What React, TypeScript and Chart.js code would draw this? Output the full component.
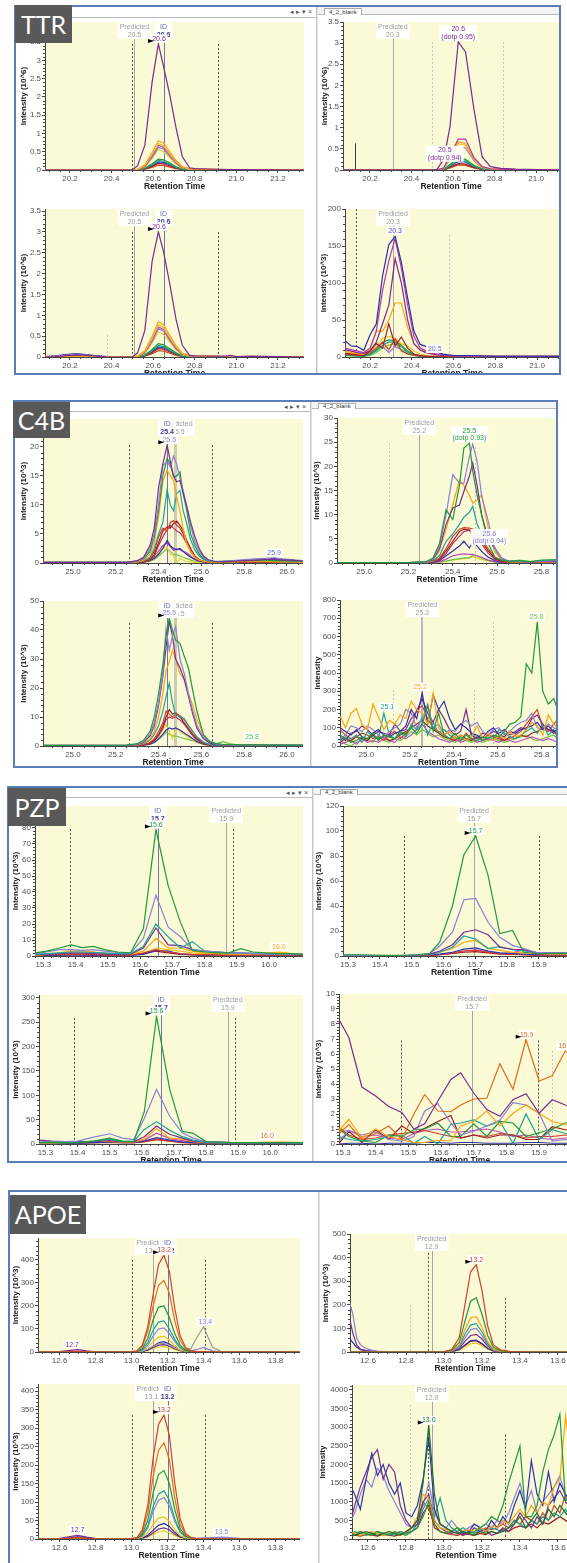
import React, { useEffect, useRef } from "react";
import { Chart, registerables } from "chart.js";

Chart.register(...registerables);

// ---------------- palette ----------------
const PURPLE = "#7a2b8f";
const ORANGE = "#ffa20f";
const GOLD = "#e8c21c";
const PINK = "#c04cbc";
const LAV = "#8a80d4";
const YELLOW = "#e2d52e";
const GREEN = "#1e9a3b";
const TEAL = "#1aa59a";
const BLUE = "#2f30ad";
const DRED = "#9b1d24";
const RED = "#d3402a";
const LGREEN = "#71c148";
const DORANGE = "#e26b1c";
const CRIMSON = "#b8336b";
const GRAY = "#9a9a9a";
const DGREEN = "#1d6e2c";
const MAG = "#b23aa6";
const PRED_TXT = "#9c9c9c";
const ID_TXT = "#6a6ab4";
const ID_VAL = "#3e3a8c";
const BG = "#fafad6";
const LF = "'Liberation Sans', Arial, sans-serif";

// ---------------- TTR ----------------
const ttrTL_x = [20.08, 20.47, 20.5, 20.525, 20.56, 20.595, 20.625, 20.65, 20.68, 20.71, 20.74, 20.775, 20.8, 20.9, 21.0, 21.33];
const ttrTL_purple = [0, 0, 0, 0.12, 0.68, 2.41, 3.45, 2.83, 2.05, 1.15, 0.37, 0.06, 0.04, 0.02, 0.01, 0];
const ttrTL_orange = [0, 0, 0, 0.02, 0.14, 0.48, 0.8, 0.74, 0.5, 0.26, 0.09, 0.04, 0.03, 0.02, 0, 0];
const ttrTL_gold = [0, 0, 0, 0.02, 0.12, 0.43, 0.72, 0.67, 0.45, 0.23, 0.08, 0.03, 0.03, 0.02, 0, 0];
const ttrTL_pink = [0, 0, 0, 0.01, 0.1, 0.38, 0.68, 0.62, 0.41, 0.2, 0.07, 0.03, 0.02, 0.01, 0, 0];
const ttrTL_lav = [0, 0, 0, 0.01, 0.09, 0.35, 0.62, 0.57, 0.37, 0.18, 0.06, 0.03, 0.02, 0.01, 0, 0];
const ttrTL_yellow = [0, 0, 0, 0.01, 0.08, 0.31, 0.56, 0.5, 0.33, 0.16, 0.05, 0.02, 0.02, 0.01, 0, 0];
const ttrTL_green = [0, 0, 0, 0.01, 0.05, 0.17, 0.3, 0.28, 0.19, 0.09, 0.03, 0.01, 0.01, 0, 0, 0];
const ttrTL_teal = [0, 0, 0, 0, 0.04, 0.14, 0.26, 0.24, 0.16, 0.07, 0.02, 0.01, 0.01, 0, 0, 0];
const ttrTL_blue = [0, 0, 0, 0, 0.03, 0.12, 0.22, 0.21, 0.14, 0.06, 0.02, 0.01, 0, 0, 0, 0];
const ttrTL_dred = [0, 0, 0, 0, 0.03, 0.1, 0.18, 0.17, 0.11, 0.05, 0.02, 0.01, 0, 0, 0, 0];
const ttrTL_red = [0, 0, 0, 0, 0.02, 0.07, 0.13, 0.12, 0.08, 0.04, 0.01, 0, 0, 0, 0, 0];

const ttrTR_x = [20.07, 20.5, 20.52, 20.555, 20.585, 20.625, 20.66, 20.7, 20.74, 20.78, 20.83, 20.9, 21.11];
const ttrTR_purple = [0, 0, 0, 0.25, 1.02, 3.03, 2.79, 1.45, 0.31, 0.08, 0.04, 0.02, 0];
const ttrTR_mag = [0, 0, 0, 0.05, 0.35, 0.73, 0.73, 0.3, 0.08, 0.03, 0.02, 0.01, 0];
const ttrTR_orange = [0, 0, 0, 0.04, 0.3, 0.67, 0.62, 0.27, 0.07, 0.03, 0.02, 0.01, 0];
const ttrTR_gold = [0, 0, 0, 0.04, 0.28, 0.62, 0.58, 0.25, 0.06, 0.03, 0.02, 0.01, 0];
const ttrTR_lav = [0, 0, 0, 0.03, 0.25, 0.55, 0.52, 0.22, 0.05, 0.02, 0.01, 0, 0];
const ttrTR_green = [0, 0, 0, 0.02, 0.13, 0.28, 0.25, 0.11, 0.03, 0.01, 0, 0, 0];
const ttrTR_teal = [0, 0, 0, 0.01, 0.1, 0.23, 0.21, 0.09, 0.02, 0.01, 0, 0, 0];
const ttrTR_blue = [0, 0, 0, 0.01, 0.09, 0.2, 0.19, 0.08, 0.02, 0, 0, 0, 0];
const ttrTR_dred = [0, 0, 0, 0.01, 0.07, 0.15, 0.14, 0.06, 0.02, 0, 0, 0, 0];
const ttrTR_red = [0, 0, 0, 0, 0.05, 0.12, 0.11, 0.05, 0.01, 0, 0, 0, 0];

const ttrBL_x = [20.08, 20.13, 20.18, 20.23, 20.28, 20.33, 20.38, 20.47, 20.5, 20.525, 20.56, 20.595, 20.625, 20.65, 20.68, 20.71, 20.74, 20.775, 20.8, 20.9, 20.95, 20.97, 21.0, 21.07, 21.33];
const ttrBL_purple = [0, 0.01, 0.03, 0.05, 0.04, 0.02, 0, 0, 0, 0.1, 0.64, 2.3, 3.0, 2.52, 1.75, 0.9, 0.28, 0.04, 0.03, 0.02, 0.02, 0.04, 0.01, 0.02, 0];
const ttrBL_orange = [0, 0, 0.01, 0.02, 0.02, 0.01, 0, 0, 0, 0.02, 0.15, 0.5, 0.85, 0.77, 0.52, 0.27, 0.09, 0.04, 0.03, 0.02, 0, 0, 0, 0, 0];
const ttrBL_gold = [0, 0, 0, 0.01, 0.01, 0, 0, 0, 0, 0.02, 0.13, 0.45, 0.78, 0.7, 0.47, 0.24, 0.08, 0.03, 0.03, 0.02, 0, 0, 0, 0, 0];
const ttrBL_pink = [0, 0.01, 0.02, 0.03, 0.02, 0.01, 0, 0, 0, 0.01, 0.11, 0.4, 0.72, 0.66, 0.43, 0.21, 0.07, 0.03, 0.02, 0.01, 0, 0, 0, 0, 0];
const ttrBL_lav = [0, 0.02, 0.04, 0.07, 0.05, 0.02, 0, 0, 0, 0.01, 0.1, 0.37, 0.68, 0.62, 0.4, 0.19, 0.06, 0.03, 0.02, 0.01, 0, 0, 0, 0, 0];
const ttrBL_yellow = [0, 0, 0, 0, 0, 0, 0, 0, 0, 0.01, 0.09, 0.33, 0.6, 0.54, 0.35, 0.17, 0.05, 0.02, 0.02, 0.01, 0, 0, 0, 0, 0];
const ttrBL_green = [0, 0, 0.01, 0.02, 0.01, 0, 0, 0, 0, 0.01, 0.05, 0.18, 0.32, 0.29, 0.2, 0.1, 0.03, 0.01, 0.01, 0, 0, 0, 0, 0, 0];
const ttrBL_teal = [0, 0, 0, 0.01, 0.01, 0, 0, 0, 0, 0, 0.04, 0.15, 0.28, 0.25, 0.17, 0.08, 0.02, 0.01, 0.01, 0, 0, 0, 0, 0, 0];
const ttrBL_blue = [0.01, 0.03, 0.06, 0.08, 0.06, 0.03, 0.01, 0, 0, 0, 0.04, 0.13, 0.24, 0.22, 0.15, 0.07, 0.02, 0.01, 0, 0, 0, 0, 0, 0, 0];
const ttrBL_dred = [0, 0.02, 0.04, 0.06, 0.04, 0.02, 0, 0, 0, 0, 0.03, 0.11, 0.2, 0.19, 0.12, 0.06, 0.02, 0.01, 0, 0, 0, 0, 0, 0, 0];
const ttrBL_red = [0, 0.01, 0.03, 0.04, 0.03, 0.01, 0, 0, 0, 0, 0.02, 0.08, 0.15, 0.14, 0.09, 0.04, 0.01, 0, 0, 0, 0, 0, 0, 0, 0];

const ttrBR_x = [20.08, 20.11, 20.14, 20.17, 20.2, 20.23, 20.26, 20.29, 20.32, 20.35, 20.38, 20.41, 20.44, 20.47, 20.5, 20.55, 20.6, 20.7, 20.8, 20.9, 21.0, 21.11];
const ttrBR_blue = [22, 15, 14, 9, 30, 45, 110, 152, 163, 128, 80, 35, 17, 14, 9, 4, 2, 2, 1, 1, 1, 1];
const ttrBR_mag = [12, 10, 8, 6, 12, 35, 90, 130, 160, 120, 70, 28, 12, 8, 5, 3, 2, 1, 1, 1, 1, 1];
const ttrBR_purple = [10, 8, 6, 5, 8, 20, 45, 70, 133, 100, 50, 18, 9, 6, 4, 2, 1, 1, 1, 1, 1, 1];
const ttrBR_orange = [8, 6, 5, 4, 10, 35, 35, 50, 73, 73, 40, 18, 10, 6, 4, 2, 1, 1, 1, 1, 1, 1];
const ttrBR_dred = [5, 4, 3, 2, 8, 18, 12, 45, 15, 27, 12, 4, 2, 1, 1, 1, 0, 0, 0, 0, 0, 0];
const ttrBR_red = [4, 3, 2, 2, 6, 12, 20, 10, 25, 8, 4, 2, 1, 1, 0, 0, 0, 0, 0, 0, 0, 0];
const ttrBR_gold = [6, 5, 4, 3, 8, 14, 25, 28, 25, 18, 15, 8, 4, 2, 1, 1, 0, 0, 0, 0, 0, 0];
const ttrBR_green = [3, 2, 2, 1, 4, 10, 20, 23, 22, 16, 8, 3, 1, 1, 0, 0, 0, 0, 0, 0, 0, 0];
const ttrBR_teal = [2, 2, 1, 1, 3, 8, 16, 20, 20, 14, 6, 2, 1, 0, 0, 0, 0, 0, 0, 0, 0, 0];
const ttrBR_lgreen = [2, 1, 1, 1, 2, 6, 12, 16, 18, 10, 4, 2, 1, 0, 0, 0, 0, 0, 0, 0, 0, 0];
const ttrBR_lav = [5, 4, 3, 2, 4, 10, 14, 6, 14, 10, 6, 3, 2, 1, 1, 1, 1, 1, 1, 1, 1, 1];

// ---------------- C4B ----------------
const c4bTL_x = [24.86, 25.25, 25.3, 25.33, 25.36, 25.38, 25.4, 25.42, 25.44, 25.455, 25.47, 25.485, 25.5, 25.515, 25.53, 25.55, 25.57, 25.59, 25.61, 25.63, 25.66, 25.7, 25.75, 25.8, 25.85, 25.9, 25.94, 25.98, 26.02, 26.075];
const c4bTL_purple = [0.1, 0.1, 0.4, 1, 3, 6, 13, 17, 20.3, 17.5, 15, 14, 14.2, 12, 10, 7, 4.5, 2.5, 1.2, 0.6, 0.3, 0.2, 0.3, 0.4, 0.5, 0.6, 0.6, 0.5, 0.5, 0.3];
const c4bTL_lav = [0.1, 0.1, 0.3, 0.8, 2.5, 5, 10, 16.8, 17.5, 16.5, 18.4, 17, 14.5, 12.5, 10, 6.5, 3.6, 2, 1, 0.5, 0.3, 0.3, 0.4, 0.6, 0.7, 0.8, 0.9, 0.7, 0.6, 0.4];
const c4bTL_green = [0.1, 0.1, 0.3, 0.7, 2, 4.5, 9, 15, 18, 17, 14.8, 15, 15.7, 12, 9.4, 5, 3, 1.5, 0.8, 0.4, 0.2, 0.3, 0.4, 0.4, 0.5, 0.5, 0.4, 0.4, 0.3, 0.3];
const c4bTL_orange = [0.1, 0.1, 0.2, 0.5, 1.5, 3.5, 8, 14, 16, 15, 14.2, 11.4, 9, 5.9, 3.5, 2, 1, 0.5, 0.3, 0.2, 0.1, 0.2, 0.2, 0.3, 0.3, 0.3, 0.2, 0.2, 0.2, 0.1];
const c4bTL_teal = [0.1, 0.1, 0.2, 0.4, 1, 2.5, 5, 7, 12.6, 10, 9, 12, 12.5, 9, 7, 4, 2.2, 1.2, 0.6, 0.3, 0.2, 0.2, 0.2, 0.3, 0.3, 0.3, 0.3, 0.2, 0.2, 0.2];
const c4bTL_red = [0, 0, 0.1, 0.3, 0.8, 2, 4.5, 6, 5.5, 7, 7.3, 6.5, 6, 5, 3.5, 2, 1, 0.5, 0.3, 0.2, 0.1, 0.1, 0.2, 0.2, 0.2, 0.2, 0.2, 0.2, 0.1, 0.1];
const c4bTL_dred = [0, 0, 0.1, 0.2, 0.6, 1.5, 3.5, 5.5, 6.2, 6, 6.8, 7.2, 6.5, 5.5, 4, 2.5, 1.2, 0.6, 0.3, 0.2, 0.1, 0.1, 0.1, 0.2, 0.2, 0.2, 0.2, 0.1, 0.1, 0.1];
const c4bTL_crimson = [0, 0, 0.1, 0.2, 0.5, 1.2, 3, 4.5, 5.8, 6.5, 6, 5.5, 5.2, 4.5, 3.5, 2.2, 1, 0.5, 0.3, 0.1, 0.1, 0.1, 0.1, 0.1, 0.2, 0.2, 0.1, 0.1, 0.1, 0.1];
const c4bTL_blue = [0, 0, 0.1, 0.2, 0.4, 0.8, 1.5, 2.5, 3.9, 3, 2.5, 2.3, 2.5, 2, 1.5, 1, 0.6, 0.3, 0.2, 0.1, 0.1, 0.1, 0.2, 0.3, 0.4, 0.6, 0.8, 0.6, 0.5, 0.3];
const c4bTL_yellow = [0, 0, 0.1, 0.2, 0.4, 1, 1.8, 2.5, 2.8, 1.5, 1.2, 0, 0.8, 0.5, 0.3, 0.2, 0.1, 0.1, 0, 0, 0, 0, 0, 0, 0, 0, 0, 0, 0, 0];
const c4bTL_lgreen = [0, 0, 0.1, 0.1, 0.3, 0.6, 1.2, 1.8, 2.5, 2, 1.5, 1.4, 1.2, 1, 0.8, 0.5, 0.3, 0.2, 0.1, 0.1, 0.2, 0.3, 0.4, 0.3, 0.2, 0.3, 0.3, 0.2, 0.2, 0.2];
const c4bTL_mag = [0, 0, 0.1, 0.2, 0.5, 1, 2, 3, 3.5, 2.8, 2.2, 2.4, 2.3, 2, 1.8, 1.2, 0.6, 0.3, 0.2, 0.1, 0.1, 0.1, 0.1, 0.1, 0.1, 0.1, 0.1, 0.1, 0.1, 0.1];

const c4bTR_x = [24.878, 25.2, 25.28, 25.31, 25.34, 25.37, 25.4, 25.43, 25.45, 25.475, 25.49, 25.51, 25.53, 25.56, 25.59, 25.62, 25.65, 25.7, 25.75, 25.8, 25.87];
const c4bTR_green = [0.1, 0.1, 0.3, 1, 4, 11, 9, 16, 23.8, 24.8, 19, 14, 10, 4, 1.2, 0.6, 0.4, 0.5, 0.3, 0.6, 0.7];
const c4bTR_lav = [0.1, 0.1, 0.2, 0.8, 3.5, 10, 18.3, 16.5, 16.5, 22, 24.6, 21, 14, 8.6, 3, 1, 0.4, 0.3, 0.3, 0.4, 0.5];
const c4bTR_purple = [0.1, 0.1, 0.2, 0.6, 3, 8, 11.4, 12, 14.8, 18, 20.7, 16, 10, 5, 3.1, 1, 0.4, 0.3, 0.2, 0.3, 0.3];
const c4bTR_orange = [0.1, 0.1, 0.2, 0.5, 2.5, 7, 12, 17.2, 16, 14, 12.4, 13, 14.1, 7.2, 2.4, 0.8, 0.3, 0.2, 0.2, 0.2, 0.2];
const c4bTR_teal = [0.1, 0.1, 0.2, 0.4, 1.5, 4.5, 6, 8, 9.5, 10.5, 11.7, 8, 5.9, 5.9, 2.4, 0.8, 0.3, 0.3, 0.2, 0.3, 0.3];
const c4bTR_red = [0, 0, 0.1, 0.3, 1, 3, 5.5, 7, 7.3, 7.2, 7, 6.5, 5, 3, 1.2, 0.5, 0.2, 0.2, 0.1, 0.1, 0.1];
const c4bTR_dred = [0, 0, 0.1, 0.2, 0.8, 2.5, 4.5, 6.5, 7, 6.8, 6.5, 5.5, 4.5, 2.5, 1, 0.4, 0.2, 0.1, 0.1, 0.1, 0.1];
const c4bTR_crimson = [0, 0, 0.1, 0.2, 0.7, 2, 4, 5.5, 6.5, 6.8, 5.5, 5, 4, 2, 0.8, 0.3, 0.1, 0.1, 0.1, 0.1, 0.1];
const c4bTR_blue = [0, 0, 0.1, 0.2, 0.5, 1.5, 2.5, 3.5, 4.5, 3.1, 4.5, 3.5, 2.4, 1.2, 0.5, 0.2, 0.1, 0.1, 0.1, 0.1, 0.1];
const c4bTR_pink = [0, 0, 0, 0.1, 0.3, 0.8, 1.5, 1.8, 1.9, 1.8, 1.8, 1.5, 1.2, 0.6, 0.3, 0.1, 0.1, 0.1, 0.1, 0.1, 0.1];
const c4bTR_lgreen = [0, 0, 0, 0.1, 0.2, 0.4, 0.7, 0.9, 1, 1.1, 1.6, 1.4, 1, 0.5, 0.2, 0.1, 0.3, 0.6, 0.3, 0.4, 0.5];
const c4bTR_yellow = [0, 0, 0, 0.1, 0.2, 0.4, 0.6, 0.8, 0.9, 1, 1.3, 1, 0.7, 0.4, 0.2, 0.1, 0.1, 0.1, 0.1, 0.1, 0.1];

const c4bBL_x = [24.86, 25.25, 25.3, 25.33, 25.36, 25.38, 25.4, 25.42, 25.435, 25.45, 25.465, 25.48, 25.5, 25.52, 25.54, 25.56, 25.58, 25.61, 25.64, 25.67, 25.7, 25.73, 25.76, 25.8, 25.85, 25.9, 25.95, 26.0, 26.075];
const c4bBL_green = [0.2, 0.3, 0.8, 2, 5, 10, 18, 28, 38, 44, 40, 36.5, 35.4, 31, 26.8, 19, 11.8, 3.8, 1.5, 0.8, 0.6, 0.5, 0.5, 0.4, 0.4, 0.3, 0.3, 0.3, 0.3];
const c4bBL_lav = [0.2, 0.3, 0.6, 1.5, 4, 8, 15, 25, 40.6, 33, 38, 41.1, 30, 25, 18, 12, 7, 3, 1.5, 0.7, 0.5, 0.4, 0.4, 0.4, 0.3, 0.3, 0.3, 0.3, 0.3];
const c4bBL_purple = [0.2, 0.2, 0.5, 1.2, 3.5, 7, 14, 24, 34, 43, 38, 30, 27, 23, 17, 11, 6, 2.5, 1, 0.5, 0.4, 0.3, 0.3, 0.3, 0.3, 0.2, 0.2, 0.2, 0.2];
const c4bBL_orange = [0.1, 0.2, 0.4, 1, 2.5, 5, 10, 18, 26, 29, 33, 30, 25, 23, 18, 14, 9, 4, 1.5, 0.6, 0.4, 0.3, 0.3, 0.3, 0.3, 0.2, 0.2, 0.2, 0.2];
const c4bBL_teal = [0.1, 0.1, 0.3, 0.8, 2, 4, 7, 12, 17, 21.6, 15, 10.7, 10, 9.5, 7, 5, 3, 1.3, 0.5, 0.3, 0.2, 0.2, 0.2, 0.2, 0.2, 0.2, 0.2, 0.2, 0.2];
const c4bBL_red = [0, 0.1, 0.2, 0.5, 1.2, 2.5, 5, 8, 12, 11, 10, 11, 10.5, 9, 7, 5, 3, 1.2, 0.4, 0.2, 0.1, 0.1, 0.1, 0.1, 0.1, 0.1, 0.1, 0.1, 0.1];
const c4bBL_dred = [0, 0.1, 0.2, 0.4, 1, 2, 4, 7, 10, 12.5, 11, 11.5, 10, 8, 6, 4, 2.5, 1, 0.3, 0.2, 0.1, 0.1, 0.1, 0.1, 0.1, 0.1, 0.1, 0.1, 0.1];
const c4bBL_crimson = [0, 0.1, 0.2, 0.4, 0.9, 1.8, 3.5, 6, 9, 10, 9.5, 10, 9, 7.5, 5.5, 3.5, 2, 0.8, 0.3, 0.2, 0.1, 0.1, 0.1, 0.1, 0.1, 0.1, 0.1, 0.1, 0.1];
const c4bBL_blue = [0, 0.1, 0.1, 0.3, 0.6, 1.2, 2.5, 4, 5.5, 6.2, 5.8, 6.2, 5.5, 4.5, 3.5, 2.5, 1.5, 0.6, 0.3, 0.2, 0.2, 0.2, 0.2, 0.3, 0.4, 0.4, 0.3, 0.3, 0.2];
const c4bBL_yellow = [0, 0.1, 0.2, 0.4, 1, 2, 3.5, 5.5, 7.5, 5, 2.5, 6, 5, 4, 3, 2, 1.2, 0.5, 0.2, 0.1, 0.1, 0.1, 0.1, 0.1, 0.1, 0.1, 0.1, 0.1, 0.1];
const c4bBL_lgreen = [0, 0.1, 0.1, 0.3, 0.6, 1.2, 2.2, 3.5, 4.8, 4, 3.5, 3.5, 3, 2.6, 2.2, 1.8, 1.2, 0.6, 0.4, 0.8, 1.5, 0.8, 0.5, 0.4, 0.3, 0.3, 0.3, 0.2, 0.2];

const c4bBR_x = [24.88, 24.905, 24.93, 24.955, 24.98, 25.005, 25.03, 25.055, 25.08, 25.105, 25.13, 25.155, 25.18, 25.205, 25.23, 25.255, 25.28, 25.305, 25.33, 25.355, 25.38, 25.405, 25.43, 25.455, 25.48, 25.505, 25.53, 25.555, 25.58, 25.605, 25.63, 25.655, 25.68, 25.705, 25.73, 25.755, 25.78, 25.805, 25.83, 25.855, 25.87];
const c4bBR_green = [60, 40, 20, 30, 50, 40, 70, 30, 60, 50, 40, 80, 60, 100, 70, 120, 220, 80, 180, 60, 40, 70, 30, 60, 40, 30, 50, 40, 60, 50, 80, 120, 130, 160, 450, 400, 680, 300, 230, 260, 210];
const c4bBR_orange = [165, 100, 180, 205, 120, 90, 230, 160, 90, 140, 120, 170, 150, 245, 200, 180, 120, 290, 100, 60, 80, 40, 60, 30, 50, 110, 40, 70, 30, 60, 40, 80, 50, 60, 90, 130, 110, 60, 170, 120, 100];
const c4bBR_blue = [100, 80, 60, 90, 50, 40, 70, 90, 60, 50, 70, 80, 110, 200, 150, 290, 120, 280, 200, 245, 150, 90, 120, 100, 70, 60, 40, 80, 100, 60, 50, 80, 70, 90, 100, 110, 130, 90, 110, 80, 70];
const c4bBR_lav = [40, 60, 110, 100, 80, 110, 90, 60, 40, 80, 100, 120, 200, 180, 100, 150, 230, 100, 120, 60, 90, 80, 120, 140, 110, 130, 80, 60, 90, 100, 60, 80, 110, 130, 140, 180, 100, 90, 120, 100, 90];
const c4bBR_purple = [50, 30, 70, 80, 110, 90, 60, 80, 70, 60, 120, 80, 90, 150, 190, 260, 180, 130, 200, 150, 90, 60, 80, 200, 60, 40, 70, 60, 80, 70, 90, 60, 80, 100, 90, 150, 170, 120, 90, 80, 90];
const c4bBR_teal = [30, 50, 40, 60, 20, 80, 50, 40, 180, 60, 40, 70, 50, 120, 90, 160, 60, 130, 70, 90, 60, 40, 50, 30, 70, 50, 30, 50, 40, 90, 70, 50, 40, 60, 80, 100, 70, 120, 60, 90, 50];
const c4bBR_red = [90, 60, 40, 50, 70, 60, 40, 50, 30, 60, 80, 40, 70, 100, 200, 220, 150, 100, 80, 60, 40, 50, 30, 70, 40, 50, 30, 40, 60, 50, 30, 40, 60, 80, 120, 160, 200, 100, 80, 120, 140];
const c4bBR_dred = [20, 40, 30, 50, 40, 30, 60, 40, 50, 30, 40, 60, 80, 100, 120, 140, 110, 90, 70, 50, 40, 30, 60, 40, 30, 50, 40, 60, 50, 40, 30, 50, 40, 60, 50, 70, 80, 100, 90, 70, 80];
const c4bBR_pink = [10, 20, 30, 10, 40, 20, 30, 20, 40, 30, 20, 50, 40, 60, 90, 120, 80, 60, 40, 30, 20, 40, 20, 30, 40, 20, 30, 40, 30, 20, 40, 30, 20, 30, 40, 50, 40, 30, 40, 30, 20];
const c4bBR_lgreen = [30, 10, 0, 20, 30, 40, 20, 60, 30, 20, 40, 30, 50, 80, 60, 90, 70, 50, 60, 40, 30, 20, 40, 30, 20, 30, 20, 30, 40, 30, 20, 30, 40, 50, 60, 40, 30, 40, 50, 60, 40];

// ---------------- PZP ----------------
const pzpTL_x = [15.274, 15.31, 15.35, 15.386, 15.42, 15.455, 15.49, 15.53, 15.57, 15.61, 15.649, 15.687, 15.725, 15.762, 15.8, 15.84, 15.875, 15.912, 15.95, 15.99, 16.03, 16.07, 16.105];
const pzpTL_green = [2, 3, 5, 6.9, 5.2, 6, 4, 2.5, 1.9, 17, 79, 44, 21, 3.5, 2.5, 2, 2, 4.6, 2.5, 2, 1.5, 1.5, 1];
const pzpTL_lav = [1.5, 2.5, 4, 4, 3.5, 4, 3, 2.2, 1.8, 11, 38, 18, 12, 4, 3, 2.5, 2, 2, 1.8, 1.5, 1.2, 1.2, 1];
const pzpTL_teal = [1, 1.5, 2, 2.5, 2.5, 2.2, 2, 1.5, 1.5, 6, 20, 12, 5, 9, 3, 2.5, 2, 2, 1.5, 1.5, 1.2, 1, 1];
const pzpTL_purple = [1, 1.2, 1.5, 2, 1.8, 1.5, 1.2, 1, 1.2, 5, 17.5, 7, 6.5, 4, 3, 2.5, 2, 2, 1.5, 1.5, 1.2, 1, 1];
const pzpTL_orange = [0.5, 1, 2, 3, 3.2, 2.5, 1.5, 1, 1, 3, 11, 5, 5, 3, 2, 1.5, 1.2, 1, 1, 1.5, 2.5, 1.5, 1];
const pzpTL_red = [0.5, 0.8, 1, 1.2, 1, 0.8, 0.6, 0.5, 0.6, 2, 4, 2.5, 1.5, 1, 0.8, 0.6, 0.5, 0.5, 0.5, 0.5, 0.5, 0.5, 0.5];
const pzpTL_blue = [0.3, 0.4, 0.5, 0.5, 0.5, 0.4, 0.4, 0.3, 0.4, 1, 3.5, 3, 1.2, 0.8, 0.6, 0.5, 0.4, 0.4, 0.4, 0.4, 0.4, 0.3, 0.3];
const pzpTL_dred = [0.3, 0.5, 0.8, 1, 0.9, 0.7, 0.5, 0.4, 0.5, 1.5, 3, 2, 1, 0.7, 0.5, 0.5, 0.4, 0.4, 0.4, 0.4, 0.4, 0.4, 0.4];
const pzpTL_gold = [0.2, 0.3, 0.5, 1, 2, 2.5, 1.5, 0.8, 0.6, 1.5, 5, 4, 3, 2, 1.5, 1, 0.8, 0.8, 1, 1.5, 2.2, 1.5, 1];

const pzpTR_x = [15.284, 15.33, 15.37, 15.41, 15.45, 15.49, 15.52, 15.557, 15.588, 15.628, 15.664, 15.701, 15.74, 15.777, 15.817, 15.852, 15.89, 15.93, 16.03];
const pzpTR_green = [1, 1, 0.8, 0.5, 0.5, 0.8, 1.2, 2, 11, 40, 81, 96, 64.5, 18, 20.5, 3, 2, 2, 2];
const pzpTR_lav = [0.5, 0.5, 0.5, 0.4, 0.4, 0.5, 0.8, 2, 8, 19, 45, 46, 27, 15, 8.5, 6, 3, 2.5, 2];
const pzpTR_purple = [0.5, 0.5, 0.4, 0.4, 0.4, 0.5, 0.7, 1.5, 4, 9, 19, 21, 17, 7, 5.3, 5, 3, 2.5, 2];
const pzpTR_teal = [0.3, 0.3, 0.3, 0.3, 0.3, 0.4, 0.6, 1.2, 3, 7, 16, 13.5, 6, 7.5, 5, 4, 3, 2.5, 2.5];
const pzpTR_orange = [0.3, 0.3, 0.3, 0.2, 0.2, 0.3, 0.5, 1, 3, 6, 11, 12.5, 6, 4.5, 3, 2.5, 2, 1.5, 1.5];
const pzpTR_blue = [0.5, 0.4, 0.3, 0.3, 0.3, 0.3, 0.4, 0.8, 1.5, 3, 5.5, 6.5, 4, 2.5, 2, 1.5, 1, 1, 1];
const pzpTR_red = [0.3, 0.3, 0.2, 0.2, 0.2, 0.3, 0.4, 0.7, 1.2, 2.5, 4, 4.5, 3, 2, 1.5, 1, 0.8, 0.8, 0.8];
const pzpTR_dred = [0.2, 0.2, 0.2, 0.2, 0.2, 0.2, 0.3, 0.5, 1, 2, 3, 3.5, 2.5, 1.5, 1.2, 1, 0.6, 0.6, 0.6];
const pzpTR_pink = [0.2, 0.2, 0.2, 0.2, 0.2, 0.2, 0.3, 0.5, 1, 2, 4, 5, 3.5, 2, 2.5, 5, 2, 1.5, 1.5];

const pzpBL_x = [15.28, 15.32, 15.36, 15.4, 15.45, 15.5, 15.54, 15.575, 15.608, 15.646, 15.687, 15.726, 15.76, 15.8, 15.84, 15.88, 15.92, 15.96, 16.0, 16.04, 16.11];
const pzpBL_green = [3, 4, 3, 3, 6, 12, 6, 5, 67, 262, 112, 26, 22, 5, 4, 3, 3, 3, 3, 3, 2];
const pzpBL_lav = [4, 5, 5, 6, 14, 21, 12, 9, 53, 112, 57, 23, 12, 5, 4, 3, 3, 3, 3, 3, 2];
const pzpBL_teal = [3, 3, 3, 3, 6, 10, 5, 6, 30, 46, 28, 15, 8, 4, 3, 3, 3, 3, 3, 3, 2];
const pzpBL_purple = [8, 6, 5, 5, 5, 7, 5, 5, 15, 37, 20, 12, 6, 4, 4, 3, 3, 3, 3, 3, 3];
const pzpBL_orange = [2, 2, 3, 4, 6, 5, 4, 4, 10, 32, 12, 10, 5, 3, 3, 3, 3, 3, 4, 4, 3];
const pzpBL_blue = [2, 2, 2, 2, 3, 4, 3, 3, 6, 13, 8, 4, 3, 2, 2, 2, 2, 2, 2, 2, 2];
const pzpBL_red = [2, 2, 2, 2, 3, 3, 3, 3, 5, 10, 6, 3, 2, 2, 2, 2, 2, 2, 2, 2, 2];
const pzpBL_dred = [3, 3, 2, 2, 3, 4, 3, 3, 5, 9, 6, 4, 3, 3, 3, 2, 2, 2, 2, 2, 2];
const pzpBL_pink = [3, 4, 4, 3, 4, 5, 4, 4, 8, 22, 11, 7, 4, 3, 3, 3, 3, 3, 3, 3, 3];

const pzpBR_x = [15.288, 15.318, 15.358, 15.4, 15.44, 15.48, 15.517, 15.55, 15.59, 15.63, 15.66, 15.7, 15.74, 15.78, 15.82, 15.86, 15.9, 15.94, 15.98, 16.03];
const pzpBR_purple = [8.3, 7.1, 3.8, 3.2, 2.5, 2.1, 1.0, 1.35, 2.85, 4.3, 4.75, 3.4, 2.3, 1.85, 2.95, 3.35, 2.05, 2.95, 2.6, 2.2];
const pzpBR_dorange = [0.7, 1.3, 0.3, 0.7, 1.2, 0.3, 2.0, 3.3, 2.2, 2.15, 2.6, 3.0, 3.05, 5.35, 3.65, 6.95, 4.2, 4.55, 6.2, 5.5];
const pzpBR_orange = [0.9, 1.65, 0.4, 1.0, 0.5, 0.3, 0.1, 0.1, 0.25, 0.2, 1.2, 1.5, 2.2, 1.2, 2.05, 2.6, 2.05, 1.5, 1.3, 1.2];
const pzpBR_lav = [0.2, 0.9, 0.6, 0.8, 0.3, 0.2, 0.5, 2.2, 2.7, 1.4, 0.6, 0.85, 1.2, 1.6, 2.75, 2.6, 2.05, 0.2, 0.3, 0.2];
const pzpBR_green = [1.0, 0.5, 0.2, 0.1, 0.6, 0.5, 0.95, 1.0, 1.4, 0.5, 0.5, 1.35, 0.5, 1.5, 1.4, 0.5, 0.75, 1.0, 1.4, 1.5];
const pzpBR_teal = [0.5, 0.3, 0.2, 0.3, 0.5, 0.6, 0.05, 0.5, 0, 1.3, 1.4, 1.6, 1.2, 1.5, 0.05, 2.0, 0.3, 0.95, 0.7, 0.6];
const pzpBR_dred = [0.05, 0.85, 0.1, 0.95, 0.3, 1.2, 0.7, 1.05, 1.5, 1.9, 0.4, 0.6, 0.4, 0.6, 0.6, 0.3, 0.3, 1.15, 0.95, 1.0];
const pzpBR_red = [1.1, 0.6, 0.3, 0.4, 0.6, 0.7, 0.8, 0.9, 0.7, 0.5, 0.4, 0.6, 0.5, 0.7, 0.6, 0.4, 0.5, 0.5, 0.6, 0.5];
const pzpBR_blue = [0, 0.05, 0.05, 0, 0.05, 0.05, 0.05, 0.1, 0.1, 0.05, 0.1, 0.1, 0.05, 0.05, 0.05, 0.1, 0.1, 0.05, 0.05, 0.05];
const pzpBR_pink = [0.8, 0.9, 0.5, 0.6, 0.4, 0.3, 0.7, 0.9, 1.0, 0.8, 0.8, 0.9, 1.0, 0.8, 0.5, 0.6, 0.4, 0.3, 0.4, 0.4];

// ---------------- APOE ----------------
const apoeTL_x = [12.48, 12.6, 12.65, 12.7, 12.75, 12.8, 12.9, 12.95, 13.0, 13.03, 13.06, 13.09, 13.12, 13.15, 13.18, 13.21, 13.24, 13.27, 13.3, 13.33, 13.36, 13.4, 13.45, 13.5, 13.6, 13.7, 13.8, 13.94];
const apoeTL_red = [0, 0, 1, 3, 1, 0, 0, 0, 1, 5, 30, 110, 250, 380, 420, 350, 190, 70, 20, 5, 2, 1, 0, 0, 0, 0, 0, 0];
const apoeTL_dorange = [0, 0, 1, 2, 1, 0, 0, 0, 1, 4, 25, 90, 200, 290, 310, 255, 135, 50, 15, 4, 2, 1, 0, 0, 0, 0, 0, 0];
const apoeTL_green = [0, 0, 0, 1, 0, 0, 0, 0, 0, 3, 15, 60, 140, 195, 200, 150, 80, 30, 8, 3, 1, 0, 0, 0, 0, 0, 0, 0];
const apoeTL_teal = [0, 0, 0, 1, 0, 0, 0, 0, 0, 2, 10, 40, 95, 130, 135, 100, 55, 20, 6, 2, 1, 0, 0, 0, 0, 0, 0, 0];
const apoeTL_lav = [0, 0, 0, 1, 0, 0, 0, 0, 0, 2, 8, 30, 70, 100, 105, 80, 45, 18, 6, 5, 10, 20, 5, 0, 0, 0, 0, 0];
const apoeTL_gold = [0, 0, 0, 0, 0, 0, 0, 0, 0, 1, 6, 20, 45, 65, 68, 52, 28, 10, 3, 1, 0, 0, 0, 0, 0, 0, 0, 0];
const apoeTL_gray = [0, 0, 0, 0, 0, 0, 0, 0, 0, 1, 4, 12, 25, 35, 38, 30, 18, 8, 10, 15, 60, 110, 20, 2, 0, 0, 0, 0];
const apoeTL_blue = [0, 0, 1, 2, 1, 0, 0, 0, 0, 1, 3, 10, 25, 40, 45, 35, 20, 8, 3, 1, 0, 0, 0, 0, 0, 0, 0, 0];
const apoeTL_purple = [0, 2, 6, 10, 5, 1, 0, 0, 0, 1, 3, 8, 20, 30, 32, 25, 14, 6, 2, 1, 0, 0, 0, 0, 0, 0, 0, 0];
const apoeTL_yellow = [0, 0, 0, 0, 0, 0, 0, 0, 0, 1, 2, 6, 15, 22, 24, 18, 10, 4, 1, 0, 0, 0, 0, 0, 0, 0, 0, 0];

const apoeTR_x = [12.5, 12.52, 12.54, 12.56, 12.59, 12.62, 12.65, 12.7, 12.8, 12.9, 12.95, 13.0, 13.04, 13.08, 13.11, 13.14, 13.17, 13.2, 13.23, 13.26, 13.3, 13.35, 13.4, 13.5, 13.6, 13.75];
const apoeTR_red = [0, 0, 0, 0, 0, 0, 0, 0, 0, 0, 0, 1, 10, 60, 200, 340, 370, 260, 110, 30, 8, 2, 1, 0, 0, 0];
const apoeTR_green = [0, 0, 0, 0, 0, 0, 0, 0, 0, 0, 0, 1, 8, 40, 130, 215, 230, 160, 70, 20, 5, 2, 1, 0, 0, 0];
const apoeTR_orange = [0, 0, 0, 0, 0, 0, 0, 0, 0, 0, 0, 1, 6, 30, 95, 145, 150, 105, 45, 12, 3, 1, 0, 0, 0, 0];
const apoeTR_teal = [0, 0, 0, 0, 0, 0, 0, 0, 0, 0, 0, 1, 5, 25, 75, 115, 120, 85, 35, 10, 3, 1, 0, 0, 0, 0];
const apoeTR_lav = [220, 160, 60, 30, 15, 8, 4, 2, 1, 1, 1, 1, 4, 20, 60, 95, 100, 70, 30, 8, 3, 1, 0, 0, 0, 0];
const apoeTR_purple = [150, 80, 30, 12, 6, 3, 2, 1, 1, 1, 0, 1, 3, 15, 45, 70, 75, 55, 25, 7, 2, 1, 0, 0, 0, 0];
const apoeTR_blue = [60, 40, 20, 10, 5, 3, 2, 1, 1, 1, 0, 1, 2, 10, 30, 48, 50, 36, 15, 5, 2, 1, 0, 0, 0, 0];
const apoeTR_gold = [0, 0, 0, 0, 0, 0, 0, 0, 0, 0, 0, 0, 2, 8, 22, 35, 38, 27, 12, 4, 1, 0, 0, 0, 0, 0];
const apoeTR_dred = [0, 0, 0, 0, 0, 0, 0, 0, 0, 0, 0, 0, 2, 10, 28, 45, 48, 33, 14, 4, 1, 0, 0, 0, 0, 0];

const apoeBL_x = [12.48, 12.6, 12.65, 12.7, 12.75, 12.8, 12.9, 12.95, 13.0, 13.03, 13.06, 13.09, 13.12, 13.15, 13.18, 13.21, 13.24, 13.27, 13.3, 13.33, 13.36, 13.4, 13.45, 13.5, 13.55, 13.6, 13.7, 13.8, 13.94];
const apoeBL_red = [0, 0, 2, 4, 2, 0, 0, 0, 1, 4, 25, 90, 220, 310, 335, 280, 150, 55, 15, 4, 1, 0, 0, 0, 0, 0, 0, 0, 0];
const apoeBL_dorange = [0, 0, 2, 3, 1, 0, 0, 0, 1, 3, 20, 70, 170, 240, 260, 215, 110, 40, 12, 3, 1, 0, 0, 0, 0, 0, 0, 0, 0];
const apoeBL_green = [0, 0, 1, 2, 1, 0, 0, 0, 0, 2, 14, 50, 125, 175, 185, 150, 80, 28, 8, 2, 1, 0, 0, 0, 0, 0, 0, 0, 0];
const apoeBL_teal = [0, 0, 1, 1, 0, 0, 0, 0, 0, 2, 10, 35, 88, 122, 130, 105, 55, 20, 6, 2, 1, 0, 0, 0, 0, 0, 0, 0, 0];
const apoeBL_lav = [0, 0, 1, 2, 1, 0, 0, 0, 0, 2, 8, 30, 75, 105, 112, 90, 48, 18, 6, 3, 2, 3, 4, 5, 4, 2, 0, 0, 0];
const apoeBL_gold = [0, 0, 0, 1, 0, 0, 0, 0, 0, 1, 5, 17, 40, 56, 60, 48, 26, 9, 3, 1, 0, 0, 0, 0, 0, 0, 0, 0, 0];
const apoeBL_blue = [0, 0, 3, 6, 3, 1, 0, 0, 0, 1, 3, 10, 24, 37, 42, 34, 18, 7, 2, 1, 0, 0, 1, 2, 1, 0, 0, 0, 0];
const apoeBL_purple = [0, 2, 6, 10, 5, 1, 0, 0, 0, 1, 2, 7, 17, 27, 30, 25, 13, 5, 2, 1, 0, 0, 0, 0, 0, 0, 0, 0, 0];
const apoeBL_yellow = [0, 0, 0, 0, 0, 0, 0, 0, 0, 1, 2, 5, 12, 19, 22, 17, 9, 3, 1, 0, 0, 0, 0, 0, 0, 0, 0, 0, 0];

const apoeBR_x = [12.44, 12.47, 12.5, 12.53, 12.56, 12.59, 12.62, 12.65, 12.68, 12.71, 12.74, 12.77, 12.8, 12.83, 12.86, 12.89, 12.92, 12.95, 12.98, 13.01, 13.04, 13.07, 13.1, 13.13, 13.16, 13.19, 13.22, 13.25, 13.28, 13.31, 13.34, 13.37, 13.4, 13.43, 13.46, 13.49, 13.52, 13.55, 13.58, 13.61, 13.64, 13.67, 13.7];
const apoeBR_purple = [600, 350, 300, 900, 1400, 1800, 2200, 2400, 1600, 2000, 1800, 900, 500, 300, 400, 1000, 1200, 500, 300, 200, 150, 200, 100, 150, 300, 200, 250, 100, 150, 300, 200, 400, 700, 500, 300, 600, 400, 900, 1100, 1300, 1000, 800, 600];
const apoeBR_blue = [1000, 700, 1500, 1200, 800, 1600, 2300, 1700, 2000, 1500, 1200, 1500, 700, 600, 900, 1600, 2700, 800, 400, 300, 200, 300, 150, 200, 400, 300, 200, 500, 300, 600, 400, 900, 1300, 800, 2100, 1200, 900, 1800, 1000, 1500, 1200, 1000, 900];
const apoeBR_lav = [300, 500, 400, 700, 1200, 1600, 1400, 1900, 1700, 1300, 1000, 700, 400, 300, 500, 900, 1500, 700, 400, 300, 500, 300, 200, 300, 400, 300, 400, 300, 500, 400, 700, 1100, 1500, 900, 1300, 700, 1000, 1200, 1400, 1700, 1100, 900, 800];
const apoeBR_green = [200, 100, 150, 100, 200, 150, 100, 200, 150, 100, 200, 150, 100, 200, 300, 600, 1000, 400, 200, 150, 200, 300, 200, 150, 200, 300, 400, 600, 500, 900, 1500, 2000, 2500, 600, 600, 900, 1800, 2400, 2800, 3350, 1000, 1300, 1500];
const apoeBR_dgreen = [100, 200, 150, 100, 150, 200, 150, 100, 150, 200, 150, 100, 200, 300, 500, 1500, 3050, 1200, 400, 300, 200, 150, 200, 150, 100, 200, 150, 200, 150, 200, 300, 400, 600, 300, 500, 700, 400, 800, 600, 900, 700, 500, 600];
const apoeBR_orange = [150, 100, 200, 150, 100, 150, 200, 150, 100, 200, 150, 100, 200, 300, 600, 1200, 1100, 500, 300, 250, 200, 300, 200, 250, 200, 300, 200, 350, 300, 500, 400, 600, 800, 600, 900, 700, 1000, 900, 1400, 1600, 3300, 2000, 1500];
const apoeBR_teal = [100, 150, 100, 200, 150, 100, 150, 200, 100, 150, 100, 200, 150, 200, 400, 800, 1100, 600, 1100, 500, 300, 200, 300, 200, 150, 250, 200, 300, 250, 200, 300, 500, 400, 300, 500, 400, 600, 500, 700, 600, 800, 500, 400];
const apoeBR_red = [200, 150, 100, 150, 200, 150, 100, 200, 150, 100, 150, 200, 150, 300, 500, 1000, 800, 400, 200, 150, 200, 150, 100, 200, 150, 200, 300, 250, 300, 400, 300, 500, 400, 600, 500, 400, 700, 500, 900, 700, 1200, 900, 800];
const apoeBR_dred = [100, 80, 120, 100, 80, 120, 100, 80, 120, 100, 80, 120, 150, 200, 300, 700, 900, 300, 200, 150, 120, 100, 150, 120, 100, 150, 120, 200, 150, 250, 200, 300, 350, 300, 400, 300, 450, 400, 500, 600, 500, 400, 300];

// ---------------- types ----------------
type Lb = { x: number; y?: number; t: string[]; c: string[]; b?: boolean[]; flag?: boolean };
type Vl = { x: number; y?: number; k: string };
type P = {
  L: number; R: number; T: number; B: number; tx: number;
  x0: number; x1: number; xs: number; y1: number; ys: number; yt: string;
  px: number[]; ser: [string, number[]][]; vl: Vl[]; lb: Lb[];
};

const VSTYLE: any = {
  dot: { c: "#505050", w: 1, d: [2, 2] },
  faint: { c: "#c6c6c6", w: 1, d: [2, 2] },
  dark: { c: "#404040", w: 1, d: [] },
  pred: { c: "#a6a6a6", w: 1, d: [] },
  predW: { c: "#cbcbb2", w: 3, d: [] },
  predG: { c: "#b9b9b9", w: 2, d: [] },
  id: { c: "#7076a8", w: 1, d: [] },
};

const predLbl = (x: number, v: string): Lb => ({ x, t: ["Predicted", v], c: [PRED_TXT, PRED_TXT] });
const idLbl = (x: number, v: string): Lb => ({ x, t: ["ID", v], c: [ID_TXT, ID_VAL], b: [false, true] });

// ---------------- groups ----------------
const GROUPS = [
  { name: "TTR", x: 14, y: 5, w: 547, h: 370, sep: 316, strip: 17, box: [15, 5, 57, 38] },
  { name: "C4B", x: 13, y: 400, w: 545, h: 368, sep: 310, strip: 411, box: [13, 402, 57, 36] },
  { name: "PZP", x: 7, y: 786, w: 575, h: 377, sep: 312, strip: 797, box: [8, 788, 58, 38] },
  { name: "APOE", x: 8, y: 1190, w: 575, h: 385, sep: 318, strip: 0, box: [10, 1195, 76, 39] },
];

const PLOTS: P[][] = [
  [
    {
      L: 45, R: 304, T: 22, B: 170, tx: 24, x0: 20.08, x1: 21.325, xs: 0.2, y1: 4.05, ys: 0.5, yt: "Intensity (10^6)",
      px: ttrTL_x,
      ser: [[PURPLE, ttrTL_purple], [ORANGE, ttrTL_orange], [GOLD, ttrTL_gold], [PINK, ttrTL_pink], [LAV, ttrTL_lav], [YELLOW, ttrTL_yellow], [GREEN, ttrTL_green], [TEAL, ttrTL_teal], [DRED, ttrTL_dred], [RED, ttrTL_red], [BLUE, ttrTL_blue]],
      vl: [{ x: 20.5, y: 3.45, k: "dot" }, { x: 20.91, y: 3.45, k: "dot" }, { x: 20.51, k: "pred" }, { x: 20.65, k: "id" }],
      lb: [predLbl(20.51, "20.5"), idLbl(20.65, "20.6"), { x: 20.628, y: 3.45, t: ["20.6"], c: [PURPLE], flag: true }],
    },
    {
      L: 343, R: 559, T: 22, B: 170, tx: 325, x0: 20.07, x1: 21.11, xs: 0.2, y1: 3.5, ys: 0.5, yt: "Intensity (10^6)",
      px: ttrTR_x,
      ser: [[PURPLE, ttrTR_purple], [MAG, ttrTR_mag], [ORANGE, ttrTR_orange], [GOLD, ttrTR_gold], [LAV, ttrTR_lav], [GREEN, ttrTR_green], [TEAL, ttrTR_teal], [DRED, ttrTR_dred], [RED, ttrTR_red], [BLUE, ttrTR_blue]],
      vl: [{ x: 20.13, y: 0.63, k: "dark" }, { x: 20.31, k: "pred" }, { x: 20.5, y: 3.03, k: "faint" }, { x: 20.84, y: 3.03, k: "faint" }],
      lb: [predLbl(20.31, "20.3"), { x: 20.625, y: 3.03, t: ["20.6", "(dotp 0.95)"], c: [PURPLE, PURPLE] }, { x: 20.56, y: 0.17, t: ["20.5", "(dotp 0.94)"], c: [PURPLE, PURPLE] }],
    },
    {
      L: 45, R: 304, T: 209, B: 357, tx: 24, x0: 20.08, x1: 21.325, xs: 0.2, y1: 3.55, ys: 0.5, yt: "Intensity (10^6)",
      px: ttrBL_x,
      ser: [[PURPLE, ttrBL_purple], [ORANGE, ttrBL_orange], [GOLD, ttrBL_gold], [PINK, ttrBL_pink], [LAV, ttrBL_lav], [YELLOW, ttrBL_yellow], [GREEN, ttrBL_green], [TEAL, ttrBL_teal], [DRED, ttrBL_dred], [RED, ttrBL_red], [BLUE, ttrBL_blue]],
      vl: [{ x: 20.5, y: 3.0, k: "dot" }, { x: 20.91, y: 3.0, k: "dot" }, { x: 20.378, y: 0.53, k: "faint" }, { x: 20.51, k: "pred" }, { x: 20.65, k: "id" }],
      lb: [predLbl(20.51, "20.5"), idLbl(20.65, "20.6"), { x: 20.628, y: 3.0, t: ["20.6"], c: [PURPLE], flag: true }],
    },
    {
      L: 345, R: 559, T: 209, B: 357, tx: 324, x0: 20.08, x1: 21.105, xs: 0.2, y1: 200, ys: 50, yt: "Intensity (10^3)",
      px: ttrBR_x,
      ser: [[BLUE, ttrBR_blue], [MAG, ttrBR_mag], [PURPLE, ttrBR_purple], [ORANGE, ttrBR_orange], [DRED, ttrBR_dred], [RED, ttrBR_red], [GOLD, ttrBR_gold], [GREEN, ttrBR_green], [TEAL, ttrBR_teal], [LGREEN, ttrBR_lgreen], [LAV, ttrBR_lav]],
      vl: [{ x: 20.135, y: 200, k: "dot" }, { x: 20.31, k: "pred" }, { x: 20.58, y: 165, k: "faint" }],
      lb: [predLbl(20.31, "20.3"), { x: 20.32, y: 163, t: ["20.3"], c: ["#4a55c0"] }, { x: 20.51, y: 4, t: ["20.5"], c: ["#6a6ad0"] }],
    },
  ],
  [
    {
      L: 43, R: 303, T: 419, B: 563, tx: 24, x0: 24.86, x1: 26.075, xs: 0.2, y1: 24.8, ys: 5, yt: "Intensity (10^3)",
      px: c4bTL_x,
      ser: [[PURPLE, c4bTL_purple], [LAV, c4bTL_lav], [GREEN, c4bTL_green], [ORANGE, c4bTL_orange], [TEAL, c4bTL_teal], [RED, c4bTL_red], [DRED, c4bTL_dred], [CRIMSON, c4bTL_crimson], [BLUE, c4bTL_blue], [YELLOW, c4bTL_yellow], [LGREEN, c4bTL_lgreen], [MAG, c4bTL_mag]],
      vl: [{ x: 25.26, y: 20.3, k: "dot" }, { x: 25.65, y: 20.3, k: "dot" }, { x: 25.477, k: "predW" }, { x: 25.44, k: "id" }],
      lb: [predLbl(25.49, "25.5"), idLbl(25.44, "25.4"), { x: 25.45, y: 20.3, t: ["25.5"], c: ["#8c8cd0"], flag: true }, { x: 25.94, y: 0.9, t: ["25.9"], c: ["#6a6ad0"] }],
    },
    {
      L: 337, R: 557, T: 418, B: 563, tx: 317, x0: 24.878, x1: 25.87, xs: 0.2, y1: 30, ys: 5, yt: "Intensity (10^3)",
      px: c4bTR_x,
      ser: [[GREEN, c4bTR_green], [LAV, c4bTR_lav], [PURPLE, c4bTR_purple], [ORANGE, c4bTR_orange], [TEAL, c4bTR_teal], [RED, c4bTR_red], [DRED, c4bTR_dred], [CRIMSON, c4bTR_crimson], [BLUE, c4bTR_blue], [PINK, c4bTR_pink], [LGREEN, c4bTR_lgreen], [YELLOW, c4bTR_yellow]],
      vl: [{ x: 25.113, y: 24.8, k: "faint" }, { x: 25.249, k: "pred" }, { x: 25.5, y: 24, k: "faint" }],
      lb: [predLbl(25.249, "25.2"), { x: 25.475, y: 24.8, t: ["25.5", "(dotp 0.93)"], c: [GREEN, GREEN] }, { x: 25.565, y: 3.5, t: ["25.6", "(dotp 0.04)"], c: [LAV, LAV] }],
    },
    {
      L: 43, R: 303, T: 601, B: 746, tx: 24, x0: 24.86, x1: 26.075, xs: 0.2, y1: 50, ys: 10, yt: "Intensity (10^3)",
      px: c4bBL_x,
      ser: [[GREEN, c4bBL_green], [LAV, c4bBL_lav], [PURPLE, c4bBL_purple], [ORANGE, c4bBL_orange], [TEAL, c4bBL_teal], [RED, c4bBL_red], [DRED, c4bBL_dred], [CRIMSON, c4bBL_crimson], [BLUE, c4bBL_blue], [YELLOW, c4bBL_yellow], [LGREEN, c4bBL_lgreen]],
      vl: [{ x: 25.26, y: 42.4, k: "dot" }, { x: 25.65, y: 42.4, k: "dot" }, { x: 25.477, k: "predW" }, { x: 25.44, k: "id" }],
      lb: [predLbl(25.49, "25.5"), idLbl(25.44, "25.4"), { x: 25.45, y: 44, t: ["25.5"], c: ["#8c8cd0"], flag: true }, { x: 25.837, y: 1.5, t: ["25.8"], c: ["#5cbf5c"] }],
    },
    {
      L: 340, R: 557, T: 600, B: 746, tx: 318, x0: 24.88, x1: 25.87, xs: 0.2, y1: 800, ys: 100, yt: "Intensity",
      px: c4bBR_x,
      ser: [[GREEN, c4bBR_green], [ORANGE, c4bBR_orange], [BLUE, c4bBR_blue], [LAV, c4bBR_lav], [PURPLE, c4bBR_purple], [TEAL, c4bBR_teal], [RED, c4bBR_red], [DRED, c4bBR_dred], [PINK, c4bBR_pink], [LGREEN, c4bBR_lgreen]],
      vl: [{ x: 25.256, k: "predG" }, { x: 25.12, y: 307, k: "faint" }, { x: 25.49, y: 307, k: "faint" }, { x: 25.58, y: 680, k: "faint" }],
      lb: [predLbl(25.256, "25.2"), { x: 25.096, y: 185, t: ["25.1"], c: [TEAL] }, { x: 25.245, y: 295, t: ["25.2"], c: [ORANGE] }, { x: 25.777, y: 680, t: ["25.8"], c: [LGREEN] }],
    },
  ],
  [
    {
      L: 35, R: 303, T: 806, B: 956, tx: 16, x0: 15.274, x1: 16.105, xs: 0.1, y1: 93.75, ys: 10, yt: "Intensity (10^3)",
      px: pzpTL_x,
      ser: [[GREEN, pzpTL_green], [LAV, pzpTL_lav], [TEAL, pzpTL_teal], [PURPLE, pzpTL_purple], [ORANGE, pzpTL_orange], [RED, pzpTL_red], [BLUE, pzpTL_blue], [DRED, pzpTL_dred], [GOLD, pzpTL_gold]],
      vl: [{ x: 15.384, y: 79.4, k: "dot" }, { x: 15.887, y: 79.4, k: "dot" }, { x: 15.655, k: "id" }, { x: 15.867, k: "pred" }],
      lb: [idLbl(15.655, "15.7"), predLbl(15.867, "15.9"), { x: 15.649, y: 79, t: ["15.6"], c: [GREEN], flag: true }, { x: 16.03, y: 2.5, t: ["16.0"], c: [ORANGE] }],
    },
    {
      L: 343, R: 580, T: 806, B: 956, tx: 319, x0: 15.284, x1: 16.029, xs: 0.1, y1: 120, ys: 20, yt: "Intensity (10^3)",
      px: pzpTR_x,
      ser: [[GREEN, pzpTR_green], [LAV, pzpTR_lav], [PURPLE, pzpTR_purple], [TEAL, pzpTR_teal], [ORANGE, pzpTR_orange], [BLUE, pzpTR_blue], [RED, pzpTR_red], [DRED, pzpTR_dred], [PINK, pzpTR_pink]],
      vl: [{ x: 15.476, y: 96, k: "dot" }, { x: 15.9, y: 96, k: "dot" }, { x: 15.696, k: "pred" }],
      lb: [predLbl(15.696, "15.7"), { x: 15.701, y: 96, t: ["15.7"], c: [GREEN], flag: true }],
    },
    {
      L: 39, R: 303, T: 995, B: 1144, tx: 16, x0: 15.28, x1: 16.102, xs: 0.1, y1: 306, ys: 50, yt: "Intensity (10^3)",
      px: pzpBL_x,
      ser: [[GREEN, pzpBL_green], [LAV, pzpBL_lav], [TEAL, pzpBL_teal], [PURPLE, pzpBL_purple], [ORANGE, pzpBL_orange], [BLUE, pzpBL_blue], [RED, pzpBL_red], [DRED, pzpBL_dred], [PINK, pzpBL_pink]],
      vl: [{ x: 15.39, y: 259, k: "dot" }, { x: 15.89, y: 259, k: "dot" }, { x: 15.66, k: "id" }, { x: 15.868, k: "pred" }],
      lb: [idLbl(15.66, "15.7"), predLbl(15.868, "15.9"), { x: 15.646, y: 262, t: ["15.6"], c: [GREEN], flag: true }, { x: 15.99, y: 6, t: ["16.0"], c: [DORANGE] }],
    },
    {
      L: 339, R: 580, T: 994, B: 1144, tx: 319, x0: 15.288, x1: 16.025, xs: 0.1, y1: 10, ys: 1, yt: "Intensity (10^3)",
      px: pzpBR_x,
      ser: [[PURPLE, pzpBR_purple], [DORANGE, pzpBR_dorange], [ORANGE, pzpBR_orange], [LAV, pzpBR_lav], [GREEN, pzpBR_green], [TEAL, pzpBR_teal], [DRED, pzpBR_dred], [RED, pzpBR_red], [PINK, pzpBR_pink], [BLUE, pzpBR_blue]],
      vl: [{ x: 15.477, y: 6.9, k: "dot" }, { x: 15.898, y: 6.9, k: "dot" }, { x: 15.94, y: 6.2, k: "faint" }, { x: 15.695, k: "pred" }],
      lb: [predLbl(15.695, "15.7"), { x: 15.862, y: 6.95, t: ["15.9"], c: [DORANGE], flag: true }, { x: 15.98, y: 6.2, t: ["16.0"], c: [DORANGE] }],
    },
  ],
  [
    {
      L: 38, R: 300, T: 1238, B: 1352, tx: 16, x0: 12.48, x1: 13.936, xs: 0.2, y1: 495, ys: 100, yt: "Intensity (10^3)",
      px: apoeTL_x,
      ser: [[RED, apoeTL_red], [DORANGE, apoeTL_dorange], [GREEN, apoeTL_green], [TEAL, apoeTL_teal], [LAV, apoeTL_lav], [GOLD, apoeTL_gold], [GRAY, apoeTL_gray], [BLUE, apoeTL_blue], [PURPLE, apoeTL_purple], [YELLOW, apoeTL_yellow]],
      vl: [{ x: 13.0, y: 400, k: "dot" }, { x: 13.41, y: 400, k: "dot" }, { x: 13.12, k: "pred" }, { x: 13.2, k: "id" }],
      lb: [predLbl(13.11, "13.1"), idLbl(13.2, "13.2"), { x: 13.18, y: 420, t: ["13.2"], c: [RED], flag: true }, { x: 13.41, y: 110, t: ["13.4"], c: [LAV] }, { x: 12.67, y: 10, t: ["12.7"], c: [PURPLE] }],
    },
    {
      L: 350, R: 580, T: 1234, B: 1352, tx: 326, x0: 12.505, x1: 13.716, xs: 0.2, y1: 500, ys: 100, yt: "Intensity (10^3)",
      px: apoeTR_x,
      ser: [[RED, apoeTR_red], [GREEN, apoeTR_green], [ORANGE, apoeTR_orange], [TEAL, apoeTR_teal], [LAV, apoeTR_lav], [PURPLE, apoeTR_purple], [BLUE, apoeTR_blue], [GOLD, apoeTR_gold], [DRED, apoeTR_dred]],
      vl: [{ x: 12.82, y: 200, k: "faint" }, { x: 12.915, y: 420, k: "dot" }, { x: 12.935, k: "pred" }, { x: 13.32, y: 230, k: "dot" }],
      lb: [predLbl(12.935, "12.9"), { x: 13.17, y: 370, t: ["13.2"], c: [RED], flag: true }],
    },
    {
      L: 38, R: 300, T: 1384, B: 1539, tx: 16, x0: 12.48, x1: 13.936, xs: 0.2, y1: 419, ys: 50, yt: "Intensity (10^3)",
      px: apoeBL_x,
      ser: [[RED, apoeBL_red], [DORANGE, apoeBL_dorange], [GREEN, apoeBL_green], [TEAL, apoeBL_teal], [LAV, apoeBL_lav], [GOLD, apoeBL_gold], [BLUE, apoeBL_blue], [PURPLE, apoeBL_purple], [YELLOW, apoeBL_yellow]],
      vl: [{ x: 13.0, y: 335, k: "dot" }, { x: 13.41, y: 335, k: "dot" }, { x: 13.12, k: "pred" }, { x: 13.2, k: "id" }],
      lb: [predLbl(13.11, "13.1"), idLbl(13.2, "13.2"), { x: 13.18, y: 335, t: ["13.2"], c: [RED], flag: true }, { x: 12.7, y: 10, t: ["12.7"], c: [PURPLE] }, { x: 13.5, y: 5, t: ["13.5"], c: [LAV] }],
    },
    {
      L: 352, R: 580, T: 1385, B: 1539, tx: 323, x0: 12.516, x1: 13.716, xs: 0.2, y1: 4134, ys: 500, yt: "Intensity",
      px: apoeBR_x,
      ser: [[DGREEN, apoeBR_dgreen], [GREEN, apoeBR_green], [ORANGE, apoeBR_orange], [BLUE, apoeBR_blue], [PURPLE, apoeBR_purple], [LAV, apoeBR_lav], [TEAL, apoeBR_teal], [RED, apoeBR_red], [DRED, apoeBR_dred]],
      vl: [{ x: 12.82, y: 3600, k: "faint" }, { x: 12.915, y: 3060, k: "dot" }, { x: 12.935, k: "pred" }, { x: 13.32, y: 2800, k: "dot" }],
      lb: [predLbl(12.935, "12.9"), { x: 12.92, y: 3050, t: ["13.0"], c: [DGREEN], flag: true }],
    },
  ],
];

// ---------------- drawing helpers ----------------
function decoPlugin(p: P) {
  return {
    id: "deco",
    beforeDraw(chart: any) {
      const { ctx, chartArea: a } = chart;
      ctx.save();
      ctx.fillStyle = BG;
      ctx.fillRect(a.left, a.top, a.right - a.left, a.bottom - a.top);
      ctx.restore();
    },
    beforeDatasetsDraw(chart: any) {
      const { ctx, chartArea: a, scales } = chart;
      const sx = scales.x, sy = scales.y;
      ctx.save();
      ctx.beginPath();
      ctx.rect(a.left, a.top, a.right - a.left, a.bottom - a.top);
      ctx.clip();
      for (const v of p.vl) {
        const st = VSTYLE[v.k];
        const x = Math.round(sx.getPixelForValue(v.x)) + (st.w % 2 ? 0.5 : 0);
        const top = v.y === undefined ? a.top + 16 : sy.getPixelForValue(v.y);
        ctx.strokeStyle = st.c;
        ctx.lineWidth = st.w;
        ctx.setLineDash(st.d);
        ctx.beginPath();
        ctx.moveTo(x, top);
        ctx.lineTo(x, a.bottom);
        ctx.stroke();
      }
      ctx.restore();
    },
    afterDatasetsDraw(chart: any) {
      const { ctx, chartArea: a, scales } = chart;
      const sx = scales.x, sy = scales.y;
      ctx.save();
      for (const l of p.lb) {
        const lh = 7.5;
        const fnt = (i: number) => `${l.b && l.b[i] ? "bold " : ""}7px ${LF}`;
        const ws = l.t.map((s, i) => { ctx.font = fnt(i); return ctx.measureText(s).width; });
        const w = Math.max(...ws) + 4;
        const h = l.t.length * lh + 1;
        const cx = sx.getPixelForValue(l.x);
        const py = l.y === undefined ? a.top : sy.getPixelForValue(l.y);
        const top = l.y === undefined ? a.top + 1 : py - 1 - h;
        ctx.fillStyle = "rgba(255,255,255,0.92)";
        ctx.fillRect(cx - w / 2, top, w, h);
        ctx.textAlign = "center";
        ctx.textBaseline = "top";
        l.t.forEach((s, i) => {
          ctx.font = fnt(i);
          ctx.fillStyle = l.c[i];
          ctx.fillText(s, cx, top + 1 + i * lh);
        });
        if (l.flag) {
          ctx.fillStyle = "#000";
          ctx.beginPath();
          ctx.moveTo(cx - 11, py - 5);
          ctx.lineTo(cx - 5, py - 3);
          ctx.lineTo(cx - 11, py - 1);
          ctx.closePath();
          ctx.fill();
        }
      }
      ctx.restore();
    },
    afterDraw(chart: any) {
      const { ctx, chartArea: a, scales } = chart;
      const sx = scales.x, sy = scales.y;
      ctx.save();
      ctx.strokeStyle = "#444";
      ctx.lineWidth = 1;
      const mx = p.xs / 4;
      for (let k = Math.ceil(p.x0 / mx); k * mx <= p.x1; k++) {
        const v = k * mx;
        if (Math.abs(v / p.xs - Math.round(v / p.xs)) < 1e-6) continue;
        const x = Math.round(sx.getPixelForValue(v)) + 0.5;
        ctx.beginPath(); ctx.moveTo(x, a.bottom); ctx.lineTo(x, a.bottom + 2); ctx.stroke();
      }
      const my = p.ys / 5;
      for (let k = 1; k * my <= p.y1; k++) {
        const v = k * my;
        if (Math.abs(v / p.ys - Math.round(v / p.ys)) < 1e-6) continue;
        const y = Math.round(sy.getPixelForValue(v)) + 0.5;
        ctx.beginPath(); ctx.moveTo(a.left - 2, y); ctx.lineTo(a.left, y); ctx.stroke();
      }
      ctx.restore();
    },
  };
}

function PlotCanvas({ p, gx, gy }: { p: P; gx: number; gy: number }) {
  const ref = useRef<HTMLCanvasElement>(null);
  const left = p.tx - 5;
  const top = p.T - 8;
  const W = p.R - left;
  const H = p.B + 22 - top;
  useEffect(() => {
    const yW = p.L - left;
    const chart = new Chart(ref.current as HTMLCanvasElement, {
      type: "line",
      data: {
        datasets: p.ser.map(([c, ys]) => ({
          data: p.px.map((x, i) => ({ x, y: ys[i] })),
          borderColor: c,
          borderWidth: 1.2,
          pointRadius: 0,
          tension: 0,
          fill: false,
        })),
      },
      options: {
        responsive: false,
        animation: false,
        devicePixelRatio: 1,
        events: [],
        layout: { padding: { top: 8, left: 0, right: 0, bottom: 0 } },
        plugins: { legend: { display: false }, tooltip: { enabled: false } },
        scales: {
          x: {
            type: "linear",
            min: p.x0,
            max: p.x1,
            border: { display: true, color: "#444", width: 1 },
            grid: { display: true, drawOnChartArea: false, drawTicks: true, tickLength: 3, color: "#444" },
            ticks: {
              autoSkip: false, maxRotation: 0, minRotation: 0, padding: 1,
              color: "#505050", font: { size: 8, family: LF },
              callback: (v: any) => Number(v).toFixed(1),
            },
            afterBuildTicks: (s: any) => {
              const t: any[] = [];
              for (let k = Math.ceil(p.x0 / p.xs - 1e-9); k * p.xs <= p.x1 - 0.3 * p.xs + 1e-9; k++) {
                t.push({ value: Math.round(k * p.xs * 1000) / 1000 });
              }
              s.ticks = t;
            },
            title: { display: true, text: "Retention Time", color: "#222", font: { size: 8.5, weight: "bold", family: LF }, padding: { top: 0, bottom: 0 } },
            afterFit: (s: any) => { s.height = 22; s.paddingLeft = 0; s.paddingRight = 0; s.paddingTop = 0; s.paddingBottom = 0; },
          },
          y: {
            type: "linear",
            min: 0,
            max: p.y1,
            border: { display: true, color: "#444", width: 1 },
            grid: { display: true, drawOnChartArea: false, drawTicks: true, tickLength: 3, color: "#444" },
            ticks: {
              autoSkip: false, padding: 1,
              color: "#505050", font: { size: 8, family: LF },
              callback: (v: any) => String(Math.round(Number(v) * 100) / 100),
            },
            afterBuildTicks: (s: any) => {
              const t: any[] = [];
              for (let k = 0; k * p.ys <= p.y1 + 1e-9; k++) t.push({ value: Math.round(k * p.ys * 1000) / 1000 });
              s.ticks = t;
            },
            title: { display: true, text: p.yt, color: "#222", font: { size: 8, weight: "bold", family: LF }, padding: { top: 0, bottom: 0 } },
            afterFit: (s: any) => { s.width = yW; s.paddingLeft = 0; s.paddingRight = 0; s.paddingTop = 0; s.paddingBottom = 0; },
          },
        },
      } as any,
      plugins: [decoPlugin(p) as any],
    } as any);
    return () => chart.destroy();
  }, []);
  return (
    <canvas
      ref={ref}
      width={W}
      height={H}
      style={{ position: "absolute", left: left - gx, top: top - gy, width: W, height: H }}
    />
  );
}

function Group({ g, plots }: { g: any; plots: P[] }) {
  const gx = g.x + 2;
  const gy = g.y + 2;
  const innerW = g.w - 4;
  return (
    <div
      style={{
        position: "absolute", left: g.x, top: g.y, width: g.w, height: g.h,
        border: "2px solid #5a7db6", boxSizing: "border-box", overflow: "hidden", background: "#fff",
      }}
    >
      {g.strip > 0 && (
        <>
          <div style={{ position: "absolute", left: 0, top: 0, width: g.sep - gx, height: g.strip - gy, borderBottom: "1px solid #b9b9b9", background: "#fff" }}>
            <div style={{ position: "absolute", right: 4, top: 0, fontSize: 7, fontFamily: LF, color: "#555", lineHeight: `${g.strip - gy}px` }}>{"◂ ▸ ▾ ×"}</div>
          </div>
          <div style={{ position: "absolute", left: g.sep - gx + 2, top: 0, width: innerW, height: g.strip - gy - 3, borderBottom: "1px solid #b9b9b9", background: "#f4f4f4" }}>
            <div style={{ position: "absolute", left: 6, top: 1, padding: "0 4px", height: g.strip - gy - 4, border: "1px solid #aaa", borderBottom: "none", background: "#fff", fontSize: 6, fontFamily: LF, color: "#333", lineHeight: `${g.strip - gy - 4}px` }}>4_2_blank</div>
          </div>
        </>
      )}
      <div style={{ position: "absolute", left: g.sep - gx, top: 0, width: 1, height: g.h, background: "#c4c4c4" }} />
      <div style={{ position: "absolute", left: g.sep - gx + 1, top: 0, width: 1, height: g.h, background: "#e4e4e4" }} />
      {plots.map((p, i) => (
        <PlotCanvas key={i} p={p} gx={gx} gy={gy} />
      ))}
    </div>
  );
}

export default function App() {
  return (
    <div style={{ position: "absolute", left: 0, top: 0, width: 567, height: 1563, overflow: "hidden", background: "#fff" }}>
      {GROUPS.map((g, i) => (
        <Group key={g.name} g={g} plots={PLOTS[i]} />
      ))}
      {GROUPS.map((g) => (
        <div
          key={"lbl" + g.name}
          style={{
            position: "absolute", left: g.box[0], top: g.box[1], width: g.box[2], height: g.box[3],
            background: "#595959", color: "#fff", fontFamily: "Lato, 'Open Sans', sans-serif",
            fontSize: 25, lineHeight: `${g.box[3]}px`, textAlign: "center", zIndex: 5,
          }}
        >
          {g.name}
        </div>
      ))}
    </div>
  );
}
